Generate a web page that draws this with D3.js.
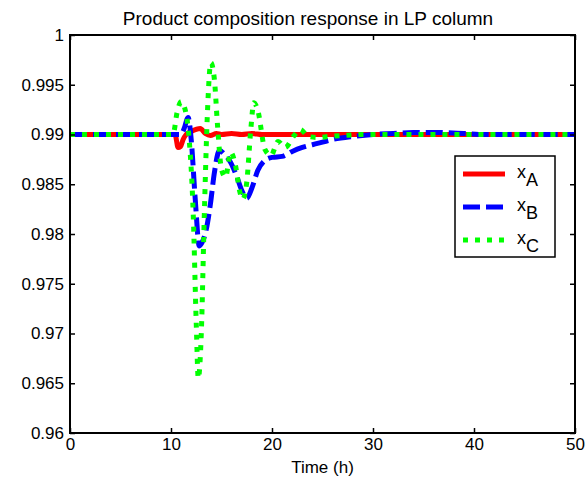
<!DOCTYPE html>
<meta charset="utf-8">
<script src="https://cdn.jsdelivr.net/npm/d3@7"></script>
<style type="text/css">
body { margin: 0; background: #fff; }
text { font-family: "Liberation Sans", Arial, sans-serif; fill: #000; }
.axis path { display: none; }
.axis line { stroke: #000; stroke-width: 1.5; }
.axis text { font-size: 17px; }
.lineA { fill: none; stroke: #ff0000; stroke-width: 5; }
.lineB { fill: none; stroke: #0000ff; stroke-width: 5; stroke-dasharray: 17,6; }
.lineC { fill: none; stroke: #00ff00; stroke-width: 5; stroke-dasharray: 5,7; }
</style>
<body>
</body>
<script>
// time (h) and composition for each product
var time_A = [0, 10.4, 10.7, 10.95, 11.2, 11.5, 12.0, 12.9, 13.4, 13.9, 14.5, 15, 16, 17, 18, 19, 20, 50];
var x_A = [0.99, 0.99, 0.9887, 0.9888, 0.9895, 0.99, 0.9903, 0.9906, 0.9901, 0.9899, 0.9901, 0.99, 0.9901, 0.99, 0.9901, 0.99, 0.99, 0.99];

var time_B = [0, 11.0, 11.3, 11.7, 12.0, 12.4, 12.8, 13.1, 13.5, 13.9, 14.3, 14.8, 15.3, 15.9, 16.5, 17.0, 17.5, 18.0, 18.6, 19.3, 20, 21, 22, 23, 24.5, 26, 28, 30, 32, 34, 36.5, 39, 41, 50];
var x_B = [0.99, 0.99, 0.9906, 0.9917, 0.9895, 0.9835, 0.9788, 0.9792, 0.9805, 0.983, 0.9862, 0.9884, 0.988, 0.9872, 0.9858, 0.9844, 0.9836, 0.9846, 0.9864, 0.9874, 0.9877, 0.9878, 0.9883, 0.9887, 0.9891, 0.9895, 0.9898, 0.99, 0.9901, 0.9902, 0.9902, 0.9901, 0.99, 0.99];

var time_C = [0, 10.2, 10.6, 11.0, 11.4, 11.8, 12.2, 12.5, 12.7, 13.0, 13.3, 13.6, 13.95, 14.3, 14.6, 15.0, 15.4, 15.9, 16.4, 16.8, 17.1, 17.5, 17.9, 18.2, 18.6, 19.3, 19.9, 20.6, 21.3, 22.2, 22.8, 23.6, 24.6, 25.6, 27, 29, 50];
var x_C = [0.99, 0.99, 0.9922, 0.9933, 0.9925, 0.9895, 0.982, 0.971, 0.9655, 0.970, 0.982, 0.992, 0.9972, 0.9955, 0.991, 0.9865, 0.9857, 0.9882, 0.9868, 0.9843, 0.9835, 0.9852, 0.9905, 0.9932, 0.9924, 0.9885, 0.9879, 0.9893, 0.9887, 0.9899, 0.9905, 0.9898, 0.9897, 0.9898, 0.9899, 0.99, 0.99];

var x_ticks = [0, 10, 20, 30, 40, 50];
var y_ticks = [0.96, 0.965, 0.97, 0.975, 0.98, 0.985, 0.99, 0.995, 1];
var y_labels = ["0.96", "0.965", "0.97", "0.975", "0.98", "0.985", "0.99", "0.995", "1"];
var legend_keys = ["A", "B", "C"];
var legend_class = ["lineA", "lineB", "lineC"];

var margin = {top: 35, right: 11, bottom: 53, left: 70}
    , width = 586 - margin.left - margin.right
    , height = 487 - margin.top - margin.bottom - 1;

var xScale = d3.scaleLinear().domain([0, 50]).range([0, width]);
var yScale = d3.scaleLinear().domain([0.96, 1]).range([height, 0]);

var svg = d3.select("body").append("svg")
      .attr("width", 586)
      .attr("height", 487)
      .append("g")
      .attr("transform", "translate(" + margin.left + "," + margin.top + ")");

svg.append("clipPath").attr("id", "clip")
    .append("rect").attr("width", width).attr("height", height);

var plot = svg.append("g").attr("clip-path", "url(#clip)");

function drawSeries(t, v, cls) {
  var pts = t.map(function(d, i) { return {x: d, y: v[i]}; });
  var line = d3.line()
      .curve(d3.curveMonotoneX)
      .x(function(d) { return xScale(d.x); })
      .y(function(d) { return yScale(d.y); });
  plot.append("path").datum(pts).attr("class", cls).attr("d", line);
}
drawSeries(time_A, x_A, "lineA");
drawSeries(time_B, x_B, "lineB");
drawSeries(time_C, x_C, "lineC");

// axes with inward ticks on all four sides
svg.append("g").attr("class", "axis")
    .attr("transform", "translate(0," + height + ")")
    .call(d3.axisBottom(xScale).tickValues(x_ticks).tickSize(-5).tickPadding(5));
svg.append("g").attr("class", "axis")
    .call(d3.axisTop(xScale).tickValues(x_ticks).tickSize(-5).tickFormat(""));
svg.append("g").attr("class", "axis")
    .call(d3.axisLeft(yScale).tickValues(y_ticks).tickSize(-5).tickPadding(6)
      .tickFormat(function(d, i) { return y_labels[i]; }));
svg.append("g").attr("class", "axis")
    .attr("transform", "translate(" + width + ",0)")
    .call(d3.axisRight(yScale).tickValues(y_ticks).tickSize(-5).tickFormat(""));

svg.append("rect")
    .attr("width", width).attr("height", height)
    .attr("fill", "none").attr("stroke", "#000").attr("stroke-width", 2);

svg.append("text")
    .text("Product composition response in LP column")
    .attr("font-size", "19px")
    .attr("text-anchor", "middle")
    .attr("x", 238)
    .attr("y", -10);

svg.append("text")
    .text("Time (h)")
    .attr("font-size", "17px")
    .attr("text-anchor", "middle")
    .attr("x", width / 2)
    .attr("y", height + 40);

// legend
var legend = svg.append("g").attr("transform", "translate(385,121)");
legend.append("rect")
    .attr("width", 100).attr("height", 101)
    .attr("fill", "#fff").attr("stroke", "#000").attr("stroke-width", 1.5);
var rows = legend.selectAll(".lineLegend").data(legend_keys)
    .enter().append("g")
    .attr("class", "lineLegend")
    .attr("transform", function(d, i) { return "translate(0," + (18 + i * 33) + ")"; });
rows.append("line")
    .attr("class", function(d, i) { return legend_class[i]; })
    .attr("x1", 8).attr("x2", 50).attr("y1", 0).attr("y2", 0);
var lt = rows.append("text").attr("x", 62).attr("y", 4).attr("font-size", "18px");
lt.append("tspan").text("x");
lt.append("tspan").attr("dy", 8).text(function(d) { return d; });
</script>
